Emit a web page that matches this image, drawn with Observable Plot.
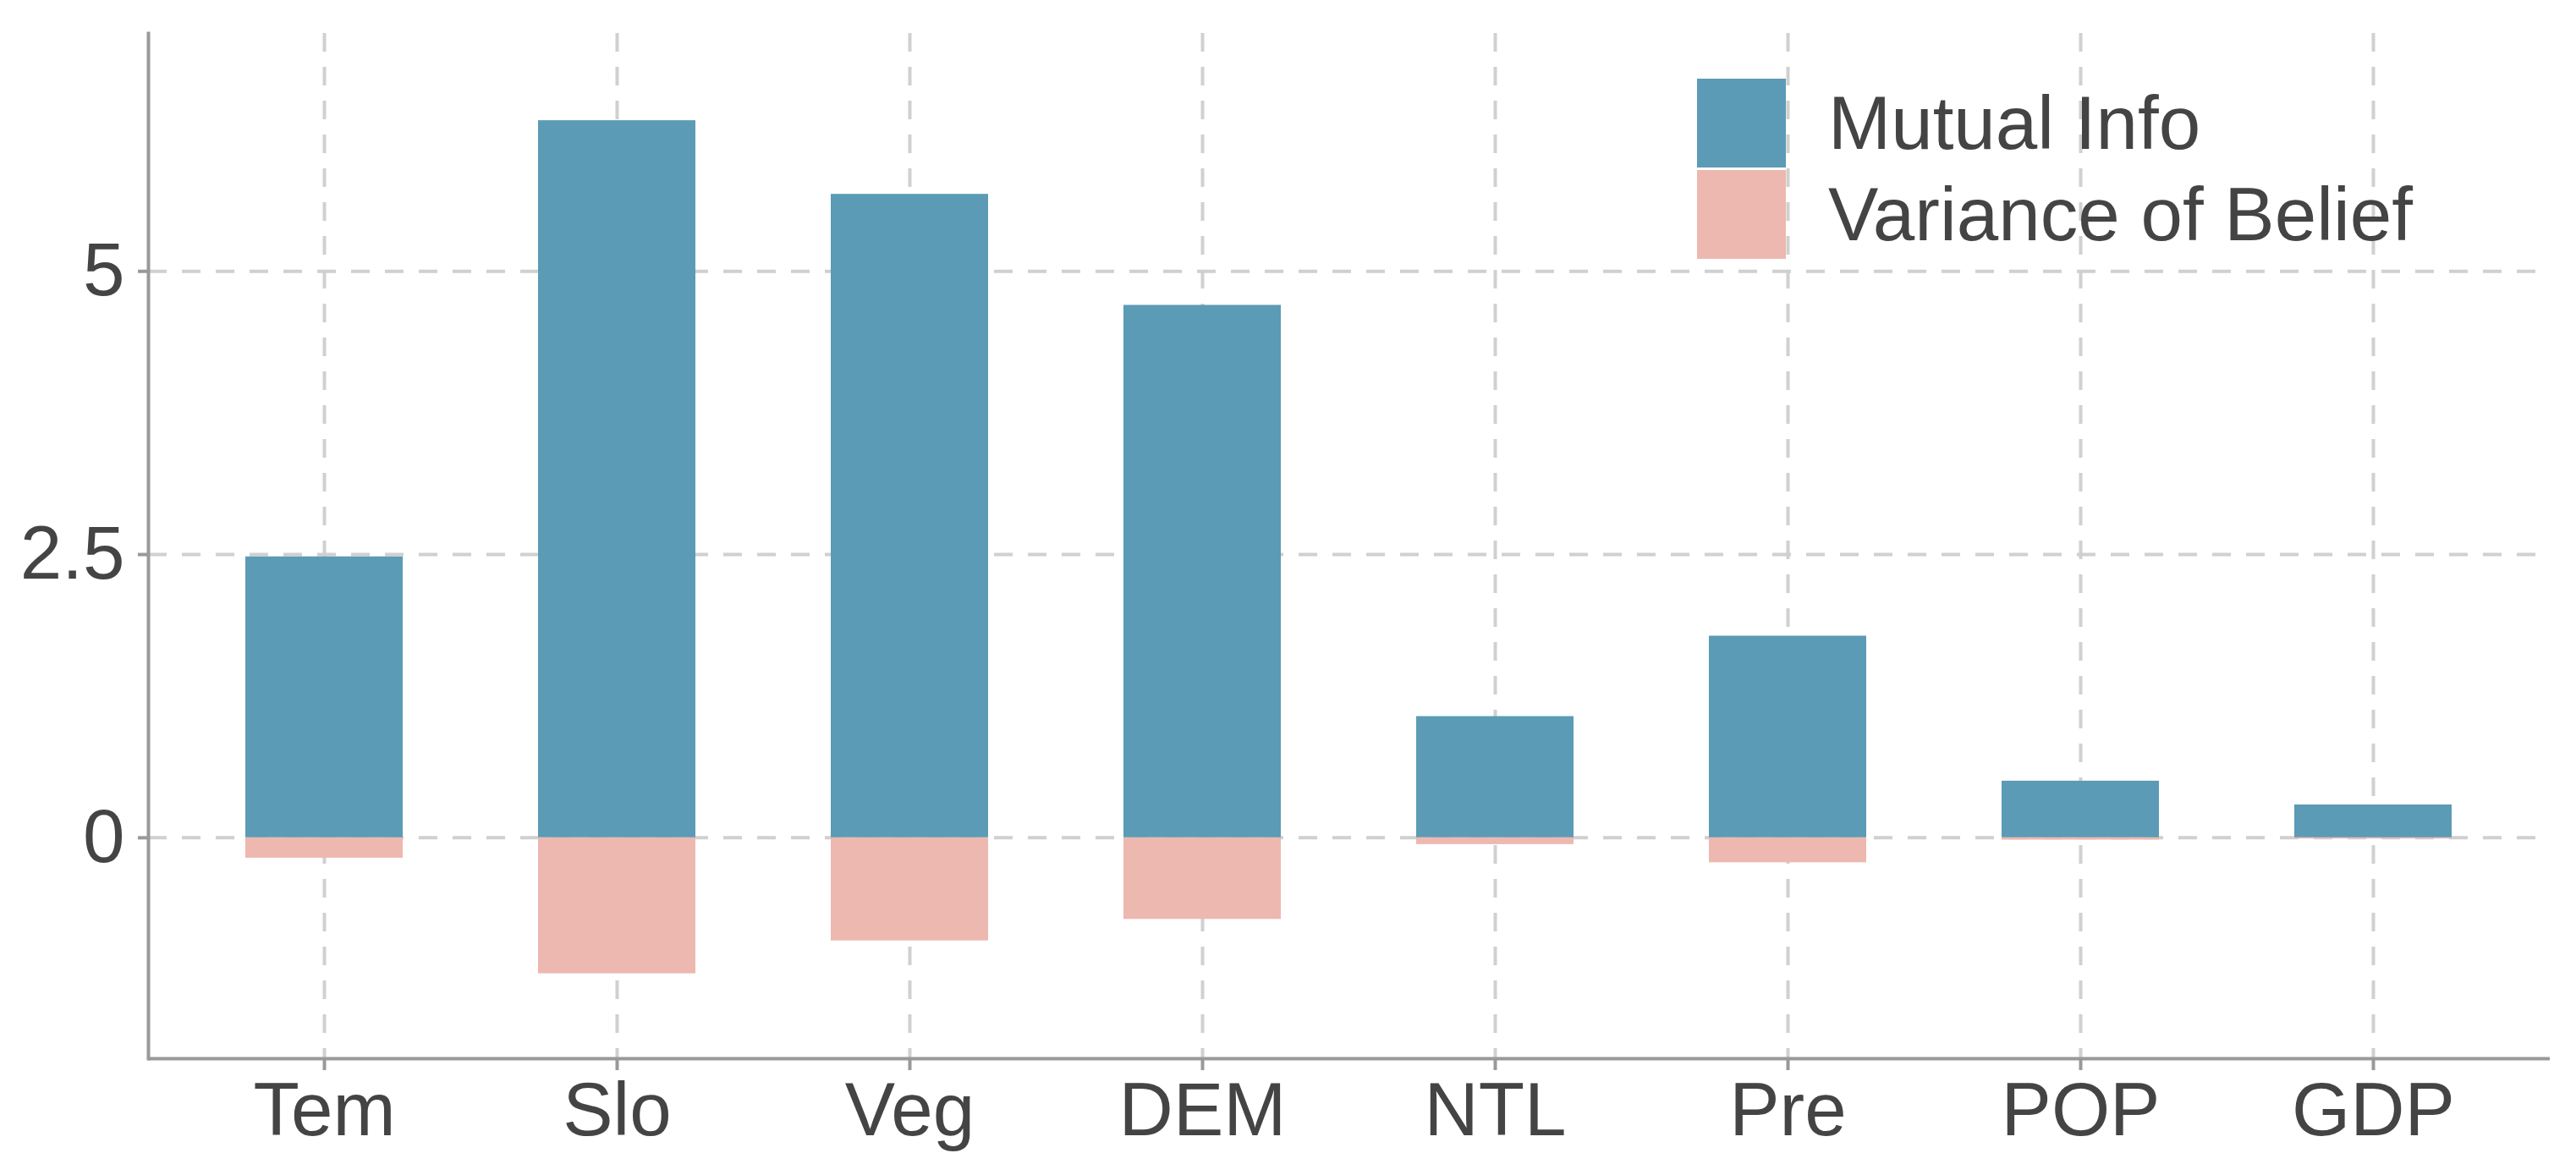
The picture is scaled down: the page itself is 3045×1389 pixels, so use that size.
<!DOCTYPE html>
<html>
<head>
<meta charset="utf-8">
<script src="https://cdn.jsdelivr.net/npm/d3@7"></script>
<script src="https://cdn.jsdelivr.net/npm/@observablehq/plot@0.6"></script>
<style>
  html, body { margin: 0; padding: 0; background: #fff; }
  #wrap { position: relative; width: 3045px; height: 1389px; font-family: "Liberation Sans", Arial, sans-serif; }
  #wrap svg [aria-label="x-axis tick"], #wrap svg [aria-label="y-axis tick"] { stroke: #999; stroke-width: 4px; }
  .legend { position: absolute; left: 2006px; top: 91px; }
  .legend .row { display: flex; align-items: center; height: 108px; }
  .legend .sw { width: 105px; height: 105px; margin-right: 50px; }
  .legend .lab { font-size: 89px; color: #444; white-space: nowrap; }
</style>
</head>
<body>
<div id="wrap"></div>
<script>
const categories = ["Tem", "Slo", "Veg", "DEM", "NTL", "Pre", "POP", "GDP"];
const mutualInfo = [2.48, 6.33, 5.68, 4.70, 1.07, 1.78, 0.50, 0.29];
const varianceOfBelief = [-0.18, -1.20, -0.91, -0.72, -0.06, -0.22, -0.02, -0.01];
const seriesNames = ["Mutual Info", "Variance of Belief"];
const seriesColors = ["#5B9BB5", "#EDB8B0"];
const yTicks = [0, 2.5, 5];

const miData = categories.map((c, i) => ({cat: c, value: mutualInfo[i]}));
const vbData = categories.map((c, i) => ({cat: c, value: varianceOfBelief[i]}));

const yMin = -1.95, yMax = 7.1;

const chart = Plot.plot({
  width: 3045,
  height: 1389,
  marginLeft: 175,
  marginRight: 31,
  marginTop: 39,
  marginBottom: 138,
  style: {fontFamily: "Liberation Sans, Arial, sans-serif", fontSize: "89px", color: "#444", background: "#fff"},
  x: {domain: categories, paddingInner: 0.462, paddingOuter: 0.33, label: null},
  y: {domain: [yMin, yMax], label: null},
  marks: [
    Plot.gridY(yTicks, {stroke: "#d0d0d0", strokeOpacity: 1, strokeWidth: 4, strokeDasharray: "22,18"}),
    Plot.gridX({stroke: "#d0d0d0", strokeOpacity: 1, strokeWidth: 4, strokeDasharray: "22,18"}),
    Plot.barY(miData, {x: "cat", y: "value", fill: seriesColors[0]}),
    Plot.barY(vbData, {x: "cat", y: "value", fill: seriesColors[1]}),
    Plot.ruleY([yMin], {stroke: "#999", strokeWidth: 4}),
    Plot.frame({anchor: "left", stroke: "#999", strokeWidth: 4}),
    Plot.axisY(yTicks, {tickSize: 12, tickPadding: 16, tickFormat: d => String(d), fontSize: 89, label: null}),
    Plot.axisX({tickSize: 14, tickPadding: 13, fontSize: 89, label: null})
  ]
});

const wrap = document.getElementById("wrap");
wrap.appendChild(chart);

const legend = document.createElement("div");
legend.className = "legend";
seriesNames.forEach((name, i) => {
  const row = document.createElement("div");
  row.className = "row";
  const sw = document.createElement("div");
  sw.className = "sw";
  sw.style.background = seriesColors[i];
  const lab = document.createElement("div");
  lab.className = "lab";
  lab.textContent = name;
  row.appendChild(sw);
  row.appendChild(lab);
  legend.appendChild(row);
});
wrap.appendChild(legend);
</script>
</body>
</html>
